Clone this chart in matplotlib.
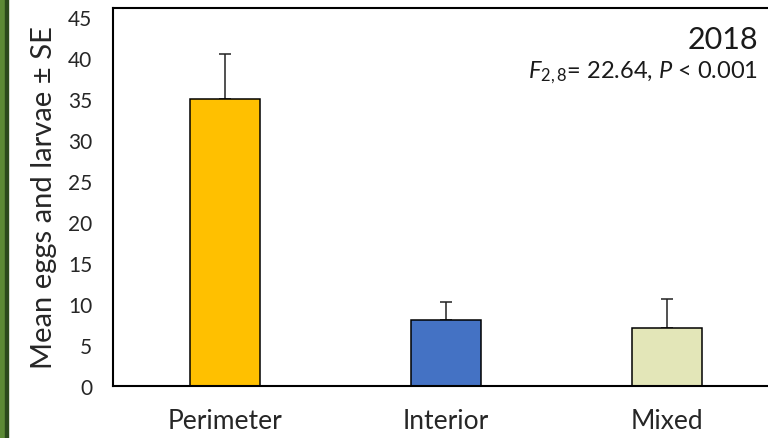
import matplotlib.pyplot as plt
from matplotlib.patches import Rectangle

plt.rcParams['font.family'] = ['Lato', 'DejaVu Sans']
plt.rcParams['mathtext.fontset'] = 'custom'
plt.rcParams['mathtext.rm'] = 'Lato'
plt.rcParams['mathtext.it'] = 'Lato:italic'

sites = ['Perimeter', 'Interior', 'Mixed']
means = [35.0, 8.1, 7.1]
se = [5.5, 2.2, 3.5]
colors = ['#FFC000', '#4472C4', '#E3E6B8']

fig = plt.figure(figsize=(7.68, 4.39), dpi=100)
# axes box runs past the right edge of the picture, like the cropped original
ax = fig.add_axes([113 / 768, 52 / 439, 666 / 768, 378 / 439])

ax.bar(range(len(sites)), means, width=0.317, color=colors, edgecolor='black', linewidth=1.1, zorder=2)
ax.errorbar(range(len(sites)), means, yerr=[[0] * len(se), se], fmt='none', ecolor='#222222',
            elinewidth=1.1, capsize=4, capthick=1.1, zorder=1)

ax.set_xlim(-0.507, 2.507)
ax.set_ylim(0, 46.1)
ax.set_yticks(range(0, 50, 5))
ax.set_xticks(range(len(sites)))
ax.set_xticklabels(sites)
ax.tick_params(axis='both', length=0, colors='#262626')
ax.tick_params(axis='y', labelsize=15, pad=15)
ax.tick_params(axis='x', labelsize=19, pad=16)
for s in ax.spines.values():
    s.set_linewidth(1.5)
ax.set_ylabel('Mean eggs and larvae ± SE', fontsize=21, color='#262626', labelpad=8)

fig.text(758 / 768, 1 - 40 / 439, '2018', ha='right', va='center', fontsize=22, color='#1a1a1a')
fig.text(758 / 768, 1 - 73 / 439, r'$F_{2,8}$= 22.64, $P$ < 0.001', ha='right', va='center',
         fontsize=17, color='#1a1a1a')

# green frame strip at the left edge
fig.patches.append(Rectangle((0, 0), 5 / 768, 1, transform=fig.transFigure, color='#5C8A35'))
fig.patches.append(Rectangle((5 / 768, 0), 2.5 / 768, 1, transform=fig.transFigure, color='#2B4A1C'))

fig.savefig('out.png', dpi=100)
